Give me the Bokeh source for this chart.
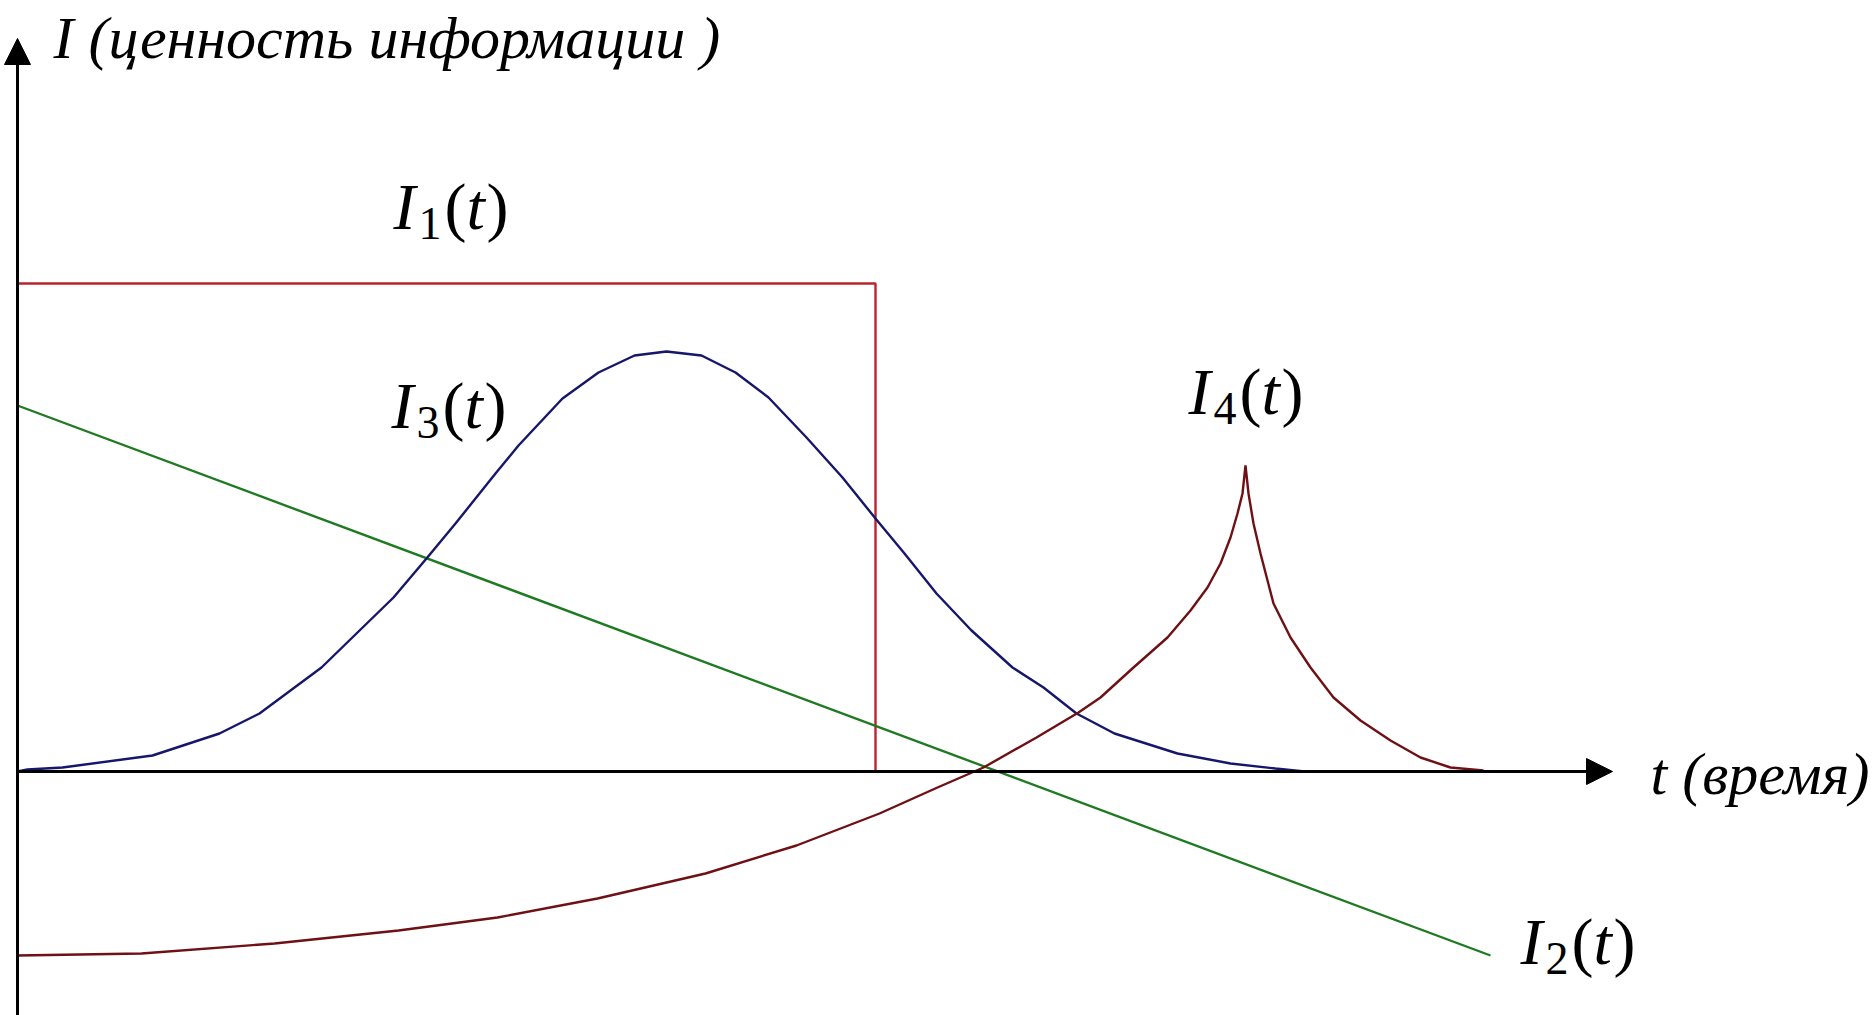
from bokeh.plotting import figure
from bokeh.models import Range1d, Arrow, NormalHead
from bokeh.core.properties import value
from bokeh.embed import file_html
from bokeh.resources import INLINE

# --- data (t in time units, I in value units) ---
i1_t = [0.0, 8.58, 8.58]
i1_v = [4.88, 4.88, 0.0]

i2_t = [0.0, 14.73]
i2_v = [3.66, -1.84]

i3_t = [0.0, 0.10, 0.45, 1.35, 2.02, 2.42, 3.04, 3.76, 4.09, 4.38, 4.78, 5.01,
        5.45, 5.81, 6.17, 6.49, 6.84, 7.18, 7.51, 7.89, 8.25, 8.58, 8.87, 9.19,
        9.54, 9.95, 10.26, 10.59, 10.97, 11.60, 12.13, 12.58, 12.87]
i3_v = [0.0, 0.02, 0.04, 0.16, 0.38, 0.58, 1.04, 1.74, 2.13, 2.48, 2.98, 3.26,
        3.73, 3.99, 4.16, 4.20, 4.16, 3.99, 3.74, 3.34, 2.94, 2.53, 2.18, 1.78,
        1.41, 1.04, 0.84, 0.58, 0.38, 0.18, 0.08, 0.03, 0.0]

i4_t = [0.0, 1.24, 2.57, 3.81, 4.80, 5.80, 6.88, 7.79, 8.62, 9.20, 9.66, 10.19,
        10.61, 10.83, 11.16, 11.50, 11.73, 11.90, 12.03, 12.13, 12.20, 12.25,
        12.28, 12.31, 12.36, 12.43, 12.56, 12.73, 12.93, 13.16, 13.43, 13.73,
        14.03, 14.33, 14.66]
i4_v = [-1.84, -1.82, -1.72, -1.59, -1.46, -1.27, -1.02, -0.74, -0.42, -0.16,
        0.04, 0.34, 0.59, 0.74, 1.04, 1.34, 1.61, 1.84, 2.08, 2.34, 2.58, 2.78,
        3.06, 2.78, 2.48, 2.18, 1.68, 1.34, 1.04, 0.74, 0.51, 0.31, 0.14, 0.04,
        0.01]

t_axis_end = 15.95
v_axis_top = 7.33
v_axis_bottom = -2.44

x_title = "t (время)"
y_title = "I (ценность информации )"

# --- colours ---
C1 = "#B8252F"
C2 = "#1F7A22"
C3 = "#16166A"
C4 = "#6E1014"

W, H = 1875, 1015
p = figure(width=W, height=H, output_backend="svg", toolbar_location=None,
           x_range=Range1d(-0.17, 18.58), y_range=Range1d(-2.44, 7.71),
           min_border=0, outline_line_color=None)
p.axis.visible = False
p.grid.visible = False
p.background_fill_color = "white"
p.border_fill_color = "white"

SERIF = value("Liberation Serif")

# curves
p.line(i1_t, i1_v, line_color=C1, line_width=2.4)
p.line(i2_t, i2_v, line_color=C2, line_width=2.4)
p.line(i3_t, i3_v, line_color=C3, line_width=2.4)
p.line(i4_t, i4_v, line_color=C4, line_width=2.4)

# axes with arrow heads
for xs, ys, xe, ye in [(0, v_axis_bottom, 0, v_axis_top),
                       (0, 0, t_axis_end, 0)]:
    p.add_layout(Arrow(end=NormalHead(size=26, fill_color="black", line_color="black",
                                      line_width=1),
                       x_start=xs, y_start=ys, x_end=xe, y_end=ye,
                       line_color="black", line_width=3))


def txt(x, y, s, size, italic=True, dx=0):
    p.text(x=[x], y=[y], text=[s], x_offset=dx, text_font=SERIF,
           text_font_style="italic" if italic else "normal",
           text_font_size=size, text_baseline="alphabetic", text_align="left",
           text_color="black")


def formula(x, y, sub):
    # I_sub(t) written piece by piece
    txt(x, y, "I", "66px", True, 0)
    txt(x, y - 0.17, sub, "46px", False, 25)
    txt(x, y, "(", "66px", False, 51)
    txt(x, y, "t", "66px", True, 73)
    txt(x, y, ")", "66px", False, 93)


txt(0.36, 7.34, y_title, "60px")
txt(16.33, -0.02, x_title, "60px")

formula(3.76, 5.65, "1")
formula(15.03, -1.70, "2")
formula(3.74, 3.66, "3")
formula(11.71, 3.80, "4")

open("out.html", "w").write(file_html(p, INLINE))
